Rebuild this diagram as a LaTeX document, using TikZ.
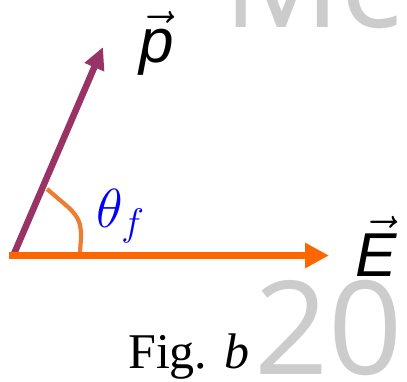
\documentclass[tikz,border=0pt]{standalone}
\usepackage{fix-cm}
\usepackage{fontspec}
\setmainfont{Liberation Serif}
\newfontfamily\vecfont{Liberation Sans}
\newfontfamily\wmfont{Open Sans}
\usetikzlibrary{arrows.meta}
\definecolor{vecpurple}{RGB}{153,51,102}
\definecolor{eorange}{RGB}{255,102,0}
\definecolor{arcorange}{RGB}{237,125,49}
\definecolor{wmgray}{RGB}{204,204,204}
\tikzset{
  lbl/.style={inner sep=0pt, anchor=base west},
  big/.style={font=\fontsize{62}{72}\selectfont},
  wm/.style={lbl, text=wmgray, font=\wmfont\fontsize{130}{150}\selectfont}
}
\begin{document}
\begin{tikzpicture}[x=1pt,y=-1pt]
\useasboundingbox (0,0) rectangle (407,381);
% watermark text
\node[wm] (mc) at (223,27) {Mc};
\node[wm] (yr) at (254,374) {20};
% coordinates
\coordinate (Ostart) at (9,255.5);
\coordinate (Etip) at (329,255.5);
\coordinate (Pstart) at (13.5,255);
\coordinate (Ptip) at (103,47);
% angle arc
\draw[arcorange, line width=4.2pt] (47,189) -- (68,207) .. controls (80,218) and (81,225) .. (81,238) -- (80,252);
% vectors
\draw[vecpurple, line width=6.5pt, -{Triangle[length=22pt,width=20pt]}] (Pstart) -- (Ptip);
\draw[eorange, line width=7.5pt, -{Triangle[length=24pt,width=24pt]}] (Ostart) -- (Etip);
% labels
\node[lbl, big] (p) at (139,62) {$\vec{\mbox{\vecfont\itshape p}}$};
\node[lbl, big] (E) at (355,276) {$\vec{\mbox{\vecfont\itshape E\kern8pt}}$};
\node[lbl, text=blue, font=\fontsize{55}{64}\selectfont] (theta) at (96,227) {$\theta_f$};
\node[lbl, font=\fontsize{50}{60}\selectfont] (fig) at (128,368) {Fig. \textit{b}};
\end{tikzpicture}
\end{document}
